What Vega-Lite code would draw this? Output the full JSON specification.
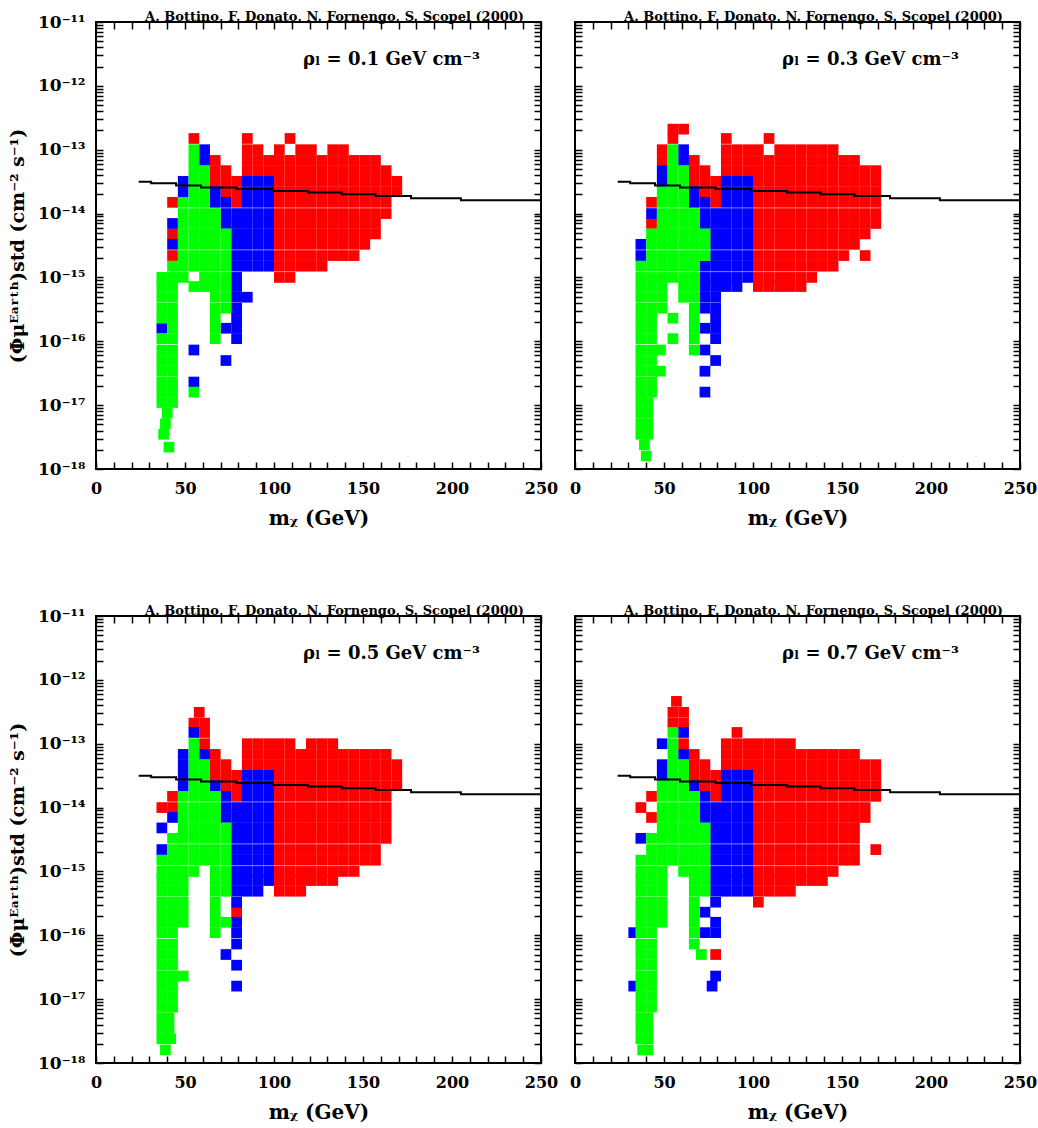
{
  "$schema": "https://vega.github.io/schema/vega-lite/v6.json",
  "background": "white",
  "padding": {"left": 7, "top": 10, "right": 0, "bottom": 0},
  "bounds": "flush",
  "columns": 2,
  "spacing": {"row": 147, "column": 34},
  "config": {
    "font": "DejaVu Serif",
    "view": {"stroke": "black", "strokeWidth": 2},
    "axis": {
      "grid": false, "domain": false, "tickColor": "black", "tickWidth": 1.5, "tickSize": -7,
      "labelColor": "black", "labelFont": "DejaVu Serif", "labelFontWeight": "bold",
      "titleColor": "black", "titleFont": "DejaVu Serif", "titleFontWeight": "bold",
      "labelOverlap": false, "labelBound": false, "labelFlush": false
    },
    "title": {"font": "DejaVu Serif", "fontWeight": "bold", "fontSize": 13, "color": "black", "anchor": "middle", "frame": "group", "dx": 16, "offset": 4}
  },
  "datasets": {
    "limit": [
      {"x":24,"y":3.16e-14},{"x":31,"y":2.99e-14},{"x":45,"y":2.75e-14},{"x":59,"y":2.57e-14},
      {"x":79,"y":2.43e-14},{"x":99,"y":2.26e-14},{"x":119,"y":2.14e-14},{"x":138,"y":2e-14},
      {"x":157,"y":1.88e-14},{"x":177,"y":1.74e-14},{"x":205,"y":1.62e-14},{"x":250,"y":1.58e-14}
    ],
    "p1": [
      {"x":55,"y":1.5e-13,"c":"r"},{"x":85,"y":1.5e-13,"c":"r"},{"x":109,"y":1.5e-13,"c":"r"},
      {"x":85,"y":1e-13,"c":"r"},{"x":91,"y":1e-13,"c":"r"},{"x":103,"y":1e-13,"c":"r"},{"x":115,"y":1e-13,"c":"r"},{"x":121,"y":1e-13,"c":"r"},{"x":133,"y":1e-13,"c":"r"},{"x":139,"y":1e-13,"c":"r"},
      {"x":67,"y":6.8e-14,"c":"r"},{"x":85,"y":6.8e-14,"c":"r"},{"x":91,"y":6.8e-14,"c":"r"},{"x":97,"y":6.8e-14,"c":"r"},{"x":103,"y":6.8e-14,"c":"r"},{"x":109,"y":6.8e-14,"c":"r"},{"x":115,"y":6.8e-14,"c":"r"},{"x":121,"y":6.8e-14,"c":"r"},{"x":127,"y":6.8e-14,"c":"r"},{"x":133,"y":6.8e-14,"c":"r"},{"x":139,"y":6.8e-14,"c":"r"},{"x":145,"y":6.8e-14,"c":"r"},{"x":151,"y":6.8e-14,"c":"r"},{"x":157,"y":6.8e-14,"c":"r"},
      {"x":67,"y":4.7e-14,"c":"r"},{"x":73,"y":4.7e-14,"c":"r"},{"x":85,"y":4.7e-14,"c":"r"},{"x":91,"y":4.7e-14,"c":"r"},{"x":97,"y":4.7e-14,"c":"r"},{"x":103,"y":4.7e-14,"c":"r"},{"x":109,"y":4.7e-14,"c":"r"},{"x":115,"y":4.7e-14,"c":"r"},{"x":121,"y":4.7e-14,"c":"r"},{"x":127,"y":4.7e-14,"c":"r"},{"x":133,"y":4.7e-14,"c":"r"},{"x":139,"y":4.7e-14,"c":"r"},{"x":145,"y":4.7e-14,"c":"r"},{"x":151,"y":4.7e-14,"c":"r"},{"x":157,"y":4.7e-14,"c":"r"},{"x":163,"y":4.7e-14,"c":"r"},
      {"x":67,"y":3.2e-14,"c":"r"},{"x":73,"y":3.2e-14,"c":"r"},{"x":79,"y":3.2e-14,"c":"r"},{"x":103,"y":3.2e-14,"c":"r"},{"x":109,"y":3.2e-14,"c":"r"},{"x":115,"y":3.2e-14,"c":"r"},{"x":121,"y":3.2e-14,"c":"r"},{"x":127,"y":3.2e-14,"c":"r"},{"x":133,"y":3.2e-14,"c":"r"},{"x":139,"y":3.2e-14,"c":"r"},{"x":145,"y":3.2e-14,"c":"r"},{"x":151,"y":3.2e-14,"c":"r"},{"x":157,"y":3.2e-14,"c":"r"},{"x":163,"y":3.2e-14,"c":"r"},{"x":169,"y":3.2e-14,"c":"r"},
      {"x":73,"y":2.2e-14,"c":"r"},{"x":79,"y":2.2e-14,"c":"r"},{"x":103,"y":2.2e-14,"c":"r"},{"x":109,"y":2.2e-14,"c":"r"},{"x":115,"y":2.2e-14,"c":"r"},{"x":121,"y":2.2e-14,"c":"r"},{"x":127,"y":2.2e-14,"c":"r"},{"x":133,"y":2.2e-14,"c":"r"},{"x":139,"y":2.2e-14,"c":"r"},{"x":145,"y":2.2e-14,"c":"r"},{"x":151,"y":2.2e-14,"c":"r"},{"x":157,"y":2.2e-14,"c":"r"},{"x":163,"y":2.2e-14,"c":"r"},{"x":169,"y":2.2e-14,"c":"r"},
      {"x":43,"y":1.5e-14,"c":"r"},{"x":79,"y":1.5e-14,"c":"r"},{"x":103,"y":1.5e-14,"c":"r"},{"x":109,"y":1.5e-14,"c":"r"},{"x":115,"y":1.5e-14,"c":"r"},{"x":121,"y":1.5e-14,"c":"r"},{"x":127,"y":1.5e-14,"c":"r"},{"x":133,"y":1.5e-14,"c":"r"},{"x":139,"y":1.5e-14,"c":"r"},{"x":145,"y":1.5e-14,"c":"r"},{"x":151,"y":1.5e-14,"c":"r"},{"x":157,"y":1.5e-14,"c":"r"},{"x":163,"y":1.5e-14,"c":"r"},
      {"x":103,"y":1e-14,"c":"r"},{"x":109,"y":1e-14,"c":"r"},{"x":115,"y":1e-14,"c":"r"},{"x":121,"y":1e-14,"c":"r"},{"x":127,"y":1e-14,"c":"r"},{"x":133,"y":1e-14,"c":"r"},{"x":139,"y":1e-14,"c":"r"},{"x":145,"y":1e-14,"c":"r"},{"x":151,"y":1e-14,"c":"r"},{"x":157,"y":1e-14,"c":"r"},{"x":163,"y":1e-14,"c":"r"},
      {"x":103,"y":7e-15,"c":"r"},{"x":109,"y":7e-15,"c":"r"},{"x":115,"y":7e-15,"c":"r"},{"x":121,"y":7e-15,"c":"r"},{"x":127,"y":7e-15,"c":"r"},{"x":133,"y":7e-15,"c":"r"},{"x":139,"y":7e-15,"c":"r"},{"x":145,"y":7e-15,"c":"r"},{"x":151,"y":7e-15,"c":"r"},{"x":157,"y":7e-15,"c":"r"},
      {"x":43,"y":4.8e-15,"c":"r"},{"x":103,"y":4.8e-15,"c":"r"},{"x":109,"y":4.8e-15,"c":"r"},{"x":115,"y":4.8e-15,"c":"r"},{"x":121,"y":4.8e-15,"c":"r"},{"x":127,"y":4.8e-15,"c":"r"},{"x":133,"y":4.8e-15,"c":"r"},{"x":139,"y":4.8e-15,"c":"r"},{"x":145,"y":4.8e-15,"c":"r"},{"x":151,"y":4.8e-15,"c":"r"},{"x":157,"y":4.8e-15,"c":"r"},
      {"x":103,"y":3.3e-15,"c":"r"},{"x":109,"y":3.3e-15,"c":"r"},{"x":115,"y":3.3e-15,"c":"r"},{"x":121,"y":3.3e-15,"c":"r"},{"x":127,"y":3.3e-15,"c":"r"},{"x":133,"y":3.3e-15,"c":"r"},{"x":139,"y":3.3e-15,"c":"r"},{"x":145,"y":3.3e-15,"c":"r"},{"x":151,"y":3.3e-15,"c":"r"},
      {"x":43,"y":2.2e-15,"c":"r"},{"x":103,"y":2.2e-15,"c":"r"},{"x":109,"y":2.2e-15,"c":"r"},{"x":115,"y":2.2e-15,"c":"r"},{"x":121,"y":2.2e-15,"c":"r"},{"x":127,"y":2.2e-15,"c":"r"},{"x":133,"y":2.2e-15,"c":"r"},{"x":139,"y":2.2e-15,"c":"r"},{"x":145,"y":2.2e-15,"c":"r"},
      {"x":103,"y":1.5e-15,"c":"r"},{"x":109,"y":1.5e-15,"c":"r"},{"x":115,"y":1.5e-15,"c":"r"},{"x":121,"y":1.5e-15,"c":"r"},{"x":127,"y":1.5e-15,"c":"r"},
      {"x":103,"y":1e-15,"c":"r"},{"x":109,"y":1e-15,"c":"r"},
      {"x":61,"y":1e-13,"c":"b"},{"x":61,"y":6.8e-14,"c":"b"},
      {"x":49,"y":3.2e-14,"c":"b"},{"x":85,"y":3.2e-14,"c":"b"},{"x":91,"y":3.2e-14,"c":"b"},{"x":97,"y":3.2e-14,"c":"b"},
      {"x":49,"y":2.2e-14,"c":"b"},{"x":67,"y":2.2e-14,"c":"b"},{"x":85,"y":2.2e-14,"c":"b"},{"x":91,"y":2.2e-14,"c":"b"},{"x":97,"y":2.2e-14,"c":"b"},
      {"x":67,"y":1.5e-14,"c":"b"},{"x":73,"y":1.5e-14,"c":"b"},{"x":85,"y":1.5e-14,"c":"b"},{"x":91,"y":1.5e-14,"c":"b"},{"x":97,"y":1.5e-14,"c":"b"},
      {"x":73,"y":1e-14,"c":"b"},{"x":79,"y":1e-14,"c":"b"},{"x":85,"y":1e-14,"c":"b"},{"x":91,"y":1e-14,"c":"b"},{"x":97,"y":1e-14,"c":"b"},
      {"x":43,"y":7e-15,"c":"b"},{"x":73,"y":7e-15,"c":"b"},{"x":79,"y":7e-15,"c":"b"},{"x":85,"y":7e-15,"c":"b"},{"x":91,"y":7e-15,"c":"b"},{"x":97,"y":7e-15,"c":"b"},
      {"x":79,"y":4.8e-15,"c":"b"},{"x":85,"y":4.8e-15,"c":"b"},{"x":91,"y":4.8e-15,"c":"b"},{"x":97,"y":4.8e-15,"c":"b"},
      {"x":43,"y":3.3e-15,"c":"b"},{"x":79,"y":3.3e-15,"c":"b"},{"x":85,"y":3.3e-15,"c":"b"},{"x":91,"y":3.3e-15,"c":"b"},{"x":97,"y":3.3e-15,"c":"b"},
      {"x":79,"y":2.2e-15,"c":"b"},{"x":85,"y":2.2e-15,"c":"b"},{"x":91,"y":2.2e-15,"c":"b"},{"x":97,"y":2.2e-15,"c":"b"},
      {"x":79,"y":1.5e-15,"c":"b"},{"x":85,"y":1.5e-15,"c":"b"},{"x":91,"y":1.5e-15,"c":"b"},{"x":97,"y":1.5e-15,"c":"b"},
      {"x":79,"y":1e-15,"c":"b"},{"x":79,"y":7.2e-16,"c":"b"},{"x":79,"y":4.9e-16,"c":"b"},{"x":85,"y":4.9e-16,"c":"b"},{"x":79,"y":3.3e-16,"c":"b"},{"x":79,"y":2.3e-16,"c":"b"},
      {"x":37,"y":1.6e-16,"c":"b"},{"x":73,"y":1.6e-16,"c":"b"},{"x":79,"y":1.6e-16,"c":"b"},{"x":79,"y":1.1e-16,"c":"b"},{"x":55,"y":7.3e-17,"c":"b"},{"x":73,"y":5e-17,"c":"b"},{"x":55,"y":2.3e-17,"c":"b"},
      {"x":55,"y":1e-13,"c":"g"},{"x":55,"y":6.8e-14,"c":"g"},
      {"x":55,"y":4.7e-14,"c":"g"},{"x":61,"y":4.7e-14,"c":"g"},
      {"x":55,"y":3.2e-14,"c":"g"},{"x":61,"y":3.2e-14,"c":"g"},
      {"x":55,"y":2.2e-14,"c":"g"},{"x":61,"y":2.2e-14,"c":"g"},
      {"x":49,"y":1.5e-14,"c":"g"},{"x":55,"y":1.5e-14,"c":"g"},{"x":61,"y":1.5e-14,"c":"g"},
      {"x":49,"y":1e-14,"c":"g"},{"x":55,"y":1e-14,"c":"g"},{"x":61,"y":1e-14,"c":"g"},{"x":67,"y":1e-14,"c":"g"},
      {"x":49,"y":7e-15,"c":"g"},{"x":55,"y":7e-15,"c":"g"},{"x":61,"y":7e-15,"c":"g"},{"x":67,"y":7e-15,"c":"g"},
      {"x":49,"y":4.8e-15,"c":"g"},{"x":55,"y":4.8e-15,"c":"g"},{"x":61,"y":4.8e-15,"c":"g"},{"x":67,"y":4.8e-15,"c":"g"},{"x":73,"y":4.8e-15,"c":"g"},
      {"x":49,"y":3.3e-15,"c":"g"},{"x":55,"y":3.3e-15,"c":"g"},{"x":61,"y":3.3e-15,"c":"g"},{"x":67,"y":3.3e-15,"c":"g"},{"x":73,"y":3.3e-15,"c":"g"},
      {"x":49,"y":2.2e-15,"c":"g"},{"x":55,"y":2.2e-15,"c":"g"},{"x":61,"y":2.2e-15,"c":"g"},{"x":67,"y":2.2e-15,"c":"g"},{"x":73,"y":2.2e-15,"c":"g"},
      {"x":43,"y":1.5e-15,"c":"g"},{"x":49,"y":1.5e-15,"c":"g"},{"x":55,"y":1.5e-15,"c":"g"},{"x":61,"y":1.5e-15,"c":"g"},{"x":67,"y":1.5e-15,"c":"g"},{"x":73,"y":1.5e-15,"c":"g"},
      {"x":37,"y":1e-15,"c":"g"},{"x":43,"y":1e-15,"c":"g"},{"x":49,"y":1e-15,"c":"g"},{"x":61,"y":1e-15,"c":"g"},{"x":67,"y":1e-15,"c":"g"},{"x":73,"y":1e-15,"c":"g"},
      {"x":37,"y":7.2e-16,"c":"g"},{"x":43,"y":7.2e-16,"c":"g"},{"x":55,"y":7.2e-16,"c":"g"},{"x":61,"y":7.2e-16,"c":"g"},{"x":67,"y":7.2e-16,"c":"g"},{"x":73,"y":7.2e-16,"c":"g"},
      {"x":37,"y":4.9e-16,"c":"g"},{"x":43,"y":4.9e-16,"c":"g"},{"x":67,"y":4.9e-16,"c":"g"},{"x":73,"y":4.9e-16,"c":"g"},
      {"x":37,"y":3.3e-16,"c":"g"},{"x":43,"y":3.3e-16,"c":"g"},{"x":67,"y":3.3e-16,"c":"g"},{"x":73,"y":3.3e-16,"c":"g"},
      {"x":37,"y":2.3e-16,"c":"g"},{"x":43,"y":2.3e-16,"c":"g"},{"x":67,"y":2.3e-16,"c":"g"},
      {"x":43,"y":1.6e-16,"c":"g"},{"x":67,"y":1.6e-16,"c":"g"},
      {"x":37,"y":1.1e-16,"c":"g"},{"x":43,"y":1.1e-16,"c":"g"},{"x":67,"y":1.1e-16,"c":"g"},
      {"x":37,"y":7.3e-17,"c":"g"},{"x":43,"y":7.3e-17,"c":"g"},
      {"x":37,"y":5e-17,"c":"g"},{"x":43,"y":5e-17,"c":"g"},
      {"x":37,"y":3.4e-17,"c":"g"},{"x":43,"y":3.4e-17,"c":"g"},
      {"x":37,"y":2.3e-17,"c":"g"},{"x":43,"y":2.3e-17,"c":"g"},
      {"x":37,"y":1.6e-17,"c":"g"},{"x":43,"y":1.6e-17,"c":"g"},{"x":55,"y":1.6e-17,"c":"g"},
      {"x":37,"y":1.1e-17,"c":"g"},{"x":43,"y":1.1e-17,"c":"g"},
      {"x":40,"y":7.5e-18,"c":"g"},{"x":39,"y":5.1e-18,"c":"g"},{"x":38,"y":3.5e-18,"c":"g"},{"x":41,"y":2.2e-18,"c":"g"}
    ],
    "p2": [
      {"x":55,"y":2.1e-13,"c":"r"},{"x":61,"y":2.1e-13,"c":"r"},
      {"x":55,"y":1.5e-13,"c":"r"},{"x":85,"y":1.5e-13,"c":"r"},{"x":109,"y":1.5e-13,"c":"r"},
      {"x":49,"y":1e-13,"c":"r"},{"x":85,"y":1e-13,"c":"r"},{"x":91,"y":1e-13,"c":"r"},{"x":97,"y":1e-13,"c":"r"},{"x":103,"y":1e-13,"c":"r"},{"x":115,"y":1e-13,"c":"r"},{"x":121,"y":1e-13,"c":"r"},{"x":127,"y":1e-13,"c":"r"},{"x":133,"y":1e-13,"c":"r"},{"x":139,"y":1e-13,"c":"r"},{"x":145,"y":1e-13,"c":"r"},
      {"x":49,"y":6.8e-14,"c":"r"},{"x":67,"y":6.8e-14,"c":"r"},{"x":85,"y":6.8e-14,"c":"r"},{"x":91,"y":6.8e-14,"c":"r"},{"x":97,"y":6.8e-14,"c":"r"},{"x":103,"y":6.8e-14,"c":"r"},{"x":109,"y":6.8e-14,"c":"r"},{"x":115,"y":6.8e-14,"c":"r"},{"x":121,"y":6.8e-14,"c":"r"},{"x":127,"y":6.8e-14,"c":"r"},{"x":133,"y":6.8e-14,"c":"r"},{"x":139,"y":6.8e-14,"c":"r"},{"x":145,"y":6.8e-14,"c":"r"},{"x":151,"y":6.8e-14,"c":"r"},{"x":157,"y":6.8e-14,"c":"r"},
      {"x":67,"y":4.7e-14,"c":"r"},{"x":73,"y":4.7e-14,"c":"r"},{"x":85,"y":4.7e-14,"c":"r"},{"x":91,"y":4.7e-14,"c":"r"},{"x":97,"y":4.7e-14,"c":"r"},{"x":103,"y":4.7e-14,"c":"r"},{"x":109,"y":4.7e-14,"c":"r"},{"x":115,"y":4.7e-14,"c":"r"},{"x":121,"y":4.7e-14,"c":"r"},{"x":127,"y":4.7e-14,"c":"r"},{"x":133,"y":4.7e-14,"c":"r"},{"x":139,"y":4.7e-14,"c":"r"},{"x":145,"y":4.7e-14,"c":"r"},{"x":151,"y":4.7e-14,"c":"r"},{"x":157,"y":4.7e-14,"c":"r"},{"x":163,"y":4.7e-14,"c":"r"},{"x":169,"y":4.7e-14,"c":"r"},
      {"x":67,"y":3.2e-14,"c":"r"},{"x":73,"y":3.2e-14,"c":"r"},{"x":79,"y":3.2e-14,"c":"r"},{"x":103,"y":3.2e-14,"c":"r"},{"x":109,"y":3.2e-14,"c":"r"},{"x":115,"y":3.2e-14,"c":"r"},{"x":121,"y":3.2e-14,"c":"r"},{"x":127,"y":3.2e-14,"c":"r"},{"x":133,"y":3.2e-14,"c":"r"},{"x":139,"y":3.2e-14,"c":"r"},{"x":145,"y":3.2e-14,"c":"r"},{"x":151,"y":3.2e-14,"c":"r"},{"x":157,"y":3.2e-14,"c":"r"},{"x":163,"y":3.2e-14,"c":"r"},{"x":169,"y":3.2e-14,"c":"r"},
      {"x":73,"y":2.2e-14,"c":"r"},{"x":79,"y":2.2e-14,"c":"r"},{"x":103,"y":2.2e-14,"c":"r"},{"x":109,"y":2.2e-14,"c":"r"},{"x":115,"y":2.2e-14,"c":"r"},{"x":121,"y":2.2e-14,"c":"r"},{"x":127,"y":2.2e-14,"c":"r"},{"x":133,"y":2.2e-14,"c":"r"},{"x":139,"y":2.2e-14,"c":"r"},{"x":145,"y":2.2e-14,"c":"r"},{"x":151,"y":2.2e-14,"c":"r"},{"x":157,"y":2.2e-14,"c":"r"},{"x":163,"y":2.2e-14,"c":"r"},{"x":169,"y":2.2e-14,"c":"r"},
      {"x":43,"y":1.5e-14,"c":"r"},{"x":79,"y":1.5e-14,"c":"r"},{"x":103,"y":1.5e-14,"c":"r"},{"x":109,"y":1.5e-14,"c":"r"},{"x":115,"y":1.5e-14,"c":"r"},{"x":121,"y":1.5e-14,"c":"r"},{"x":127,"y":1.5e-14,"c":"r"},{"x":133,"y":1.5e-14,"c":"r"},{"x":139,"y":1.5e-14,"c":"r"},{"x":145,"y":1.5e-14,"c":"r"},{"x":151,"y":1.5e-14,"c":"r"},{"x":157,"y":1.5e-14,"c":"r"},{"x":163,"y":1.5e-14,"c":"r"},{"x":169,"y":1.5e-14,"c":"r"},
      {"x":103,"y":1e-14,"c":"r"},{"x":109,"y":1e-14,"c":"r"},{"x":115,"y":1e-14,"c":"r"},{"x":121,"y":1e-14,"c":"r"},{"x":127,"y":1e-14,"c":"r"},{"x":133,"y":1e-14,"c":"r"},{"x":139,"y":1e-14,"c":"r"},{"x":145,"y":1e-14,"c":"r"},{"x":151,"y":1e-14,"c":"r"},{"x":157,"y":1e-14,"c":"r"},{"x":163,"y":1e-14,"c":"r"},{"x":169,"y":1e-14,"c":"r"},
      {"x":43,"y":7e-15,"c":"r"},{"x":103,"y":7e-15,"c":"r"},{"x":109,"y":7e-15,"c":"r"},{"x":115,"y":7e-15,"c":"r"},{"x":121,"y":7e-15,"c":"r"},{"x":127,"y":7e-15,"c":"r"},{"x":133,"y":7e-15,"c":"r"},{"x":139,"y":7e-15,"c":"r"},{"x":145,"y":7e-15,"c":"r"},{"x":151,"y":7e-15,"c":"r"},{"x":157,"y":7e-15,"c":"r"},{"x":163,"y":7e-15,"c":"r"},{"x":169,"y":7e-15,"c":"r"},
      {"x":103,"y":4.8e-15,"c":"r"},{"x":109,"y":4.8e-15,"c":"r"},{"x":115,"y":4.8e-15,"c":"r"},{"x":121,"y":4.8e-15,"c":"r"},{"x":127,"y":4.8e-15,"c":"r"},{"x":133,"y":4.8e-15,"c":"r"},{"x":139,"y":4.8e-15,"c":"r"},{"x":145,"y":4.8e-15,"c":"r"},{"x":151,"y":4.8e-15,"c":"r"},{"x":157,"y":4.8e-15,"c":"r"},{"x":163,"y":4.8e-15,"c":"r"},
      {"x":103,"y":3.3e-15,"c":"r"},{"x":109,"y":3.3e-15,"c":"r"},{"x":115,"y":3.3e-15,"c":"r"},{"x":121,"y":3.3e-15,"c":"r"},{"x":127,"y":3.3e-15,"c":"r"},{"x":133,"y":3.3e-15,"c":"r"},{"x":139,"y":3.3e-15,"c":"r"},{"x":145,"y":3.3e-15,"c":"r"},{"x":151,"y":3.3e-15,"c":"r"},{"x":157,"y":3.3e-15,"c":"r"},
      {"x":103,"y":2.2e-15,"c":"r"},{"x":109,"y":2.2e-15,"c":"r"},{"x":115,"y":2.2e-15,"c":"r"},{"x":121,"y":2.2e-15,"c":"r"},{"x":127,"y":2.2e-15,"c":"r"},{"x":133,"y":2.2e-15,"c":"r"},{"x":139,"y":2.2e-15,"c":"r"},{"x":145,"y":2.2e-15,"c":"r"},{"x":151,"y":2.2e-15,"c":"r"},{"x":163,"y":2.2e-15,"c":"r"},
      {"x":103,"y":1.5e-15,"c":"r"},{"x":109,"y":1.5e-15,"c":"r"},{"x":115,"y":1.5e-15,"c":"r"},{"x":121,"y":1.5e-15,"c":"r"},{"x":127,"y":1.5e-15,"c":"r"},{"x":133,"y":1.5e-15,"c":"r"},{"x":139,"y":1.5e-15,"c":"r"},{"x":145,"y":1.5e-15,"c":"r"},
      {"x":103,"y":1e-15,"c":"r"},{"x":109,"y":1e-15,"c":"r"},{"x":115,"y":1e-15,"c":"r"},{"x":121,"y":1e-15,"c":"r"},{"x":127,"y":1e-15,"c":"r"},{"x":133,"y":1e-15,"c":"r"},
      {"x":103,"y":7.2e-16,"c":"r"},{"x":109,"y":7.2e-16,"c":"r"},{"x":115,"y":7.2e-16,"c":"r"},{"x":121,"y":7.2e-16,"c":"r"},{"x":127,"y":7.2e-16,"c":"r"},
      {"x":61,"y":1e-13,"c":"b"},{"x":61,"y":6.8e-14,"c":"b"},{"x":49,"y":4.7e-14,"c":"b"},
      {"x":49,"y":3.2e-14,"c":"b"},{"x":85,"y":3.2e-14,"c":"b"},{"x":91,"y":3.2e-14,"c":"b"},{"x":97,"y":3.2e-14,"c":"b"},
      {"x":67,"y":2.2e-14,"c":"b"},{"x":85,"y":2.2e-14,"c":"b"},{"x":91,"y":2.2e-14,"c":"b"},{"x":97,"y":2.2e-14,"c":"b"},
      {"x":67,"y":1.5e-14,"c":"b"},{"x":73,"y":1.5e-14,"c":"b"},{"x":85,"y":1.5e-14,"c":"b"},{"x":91,"y":1.5e-14,"c":"b"},{"x":97,"y":1.5e-14,"c":"b"},
      {"x":43,"y":1e-14,"c":"b"},{"x":73,"y":1e-14,"c":"b"},{"x":79,"y":1e-14,"c":"b"},{"x":85,"y":1e-14,"c":"b"},{"x":91,"y":1e-14,"c":"b"},{"x":97,"y":1e-14,"c":"b"},
      {"x":73,"y":7e-15,"c":"b"},{"x":79,"y":7e-15,"c":"b"},{"x":85,"y":7e-15,"c":"b"},{"x":91,"y":7e-15,"c":"b"},{"x":97,"y":7e-15,"c":"b"},
      {"x":79,"y":4.8e-15,"c":"b"},{"x":85,"y":4.8e-15,"c":"b"},{"x":91,"y":4.8e-15,"c":"b"},{"x":97,"y":4.8e-15,"c":"b"},
      {"x":37,"y":3.3e-15,"c":"b"},{"x":79,"y":3.3e-15,"c":"b"},{"x":85,"y":3.3e-15,"c":"b"},{"x":91,"y":3.3e-15,"c":"b"},{"x":97,"y":3.3e-15,"c":"b"},
      {"x":37,"y":2.2e-15,"c":"b"},{"x":79,"y":2.2e-15,"c":"b"},{"x":85,"y":2.2e-15,"c":"b"},{"x":91,"y":2.2e-15,"c":"b"},{"x":97,"y":2.2e-15,"c":"b"},
      {"x":73,"y":1.5e-15,"c":"b"},{"x":79,"y":1.5e-15,"c":"b"},{"x":85,"y":1.5e-15,"c":"b"},{"x":91,"y":1.5e-15,"c":"b"},{"x":97,"y":1.5e-15,"c":"b"},
      {"x":73,"y":1e-15,"c":"b"},{"x":79,"y":1e-15,"c":"b"},{"x":85,"y":1e-15,"c":"b"},{"x":91,"y":1e-15,"c":"b"},{"x":97,"y":1e-15,"c":"b"},
      {"x":73,"y":7.2e-16,"c":"b"},{"x":79,"y":7.2e-16,"c":"b"},{"x":85,"y":7.2e-16,"c":"b"},{"x":91,"y":7.2e-16,"c":"b"},
      {"x":73,"y":4.9e-16,"c":"b"},{"x":79,"y":4.9e-16,"c":"b"},{"x":73,"y":3.3e-16,"c":"b"},{"x":79,"y":3.3e-16,"c":"b"},{"x":79,"y":2.3e-16,"c":"b"},
      {"x":73,"y":1.6e-16,"c":"b"},{"x":79,"y":1.6e-16,"c":"b"},{"x":79,"y":1.1e-16,"c":"b"},{"x":73,"y":7.3e-17,"c":"b"},{"x":79,"y":5e-17,"c":"b"},{"x":73,"y":3.4e-17,"c":"b"},{"x":73,"y":1.6e-17,"c":"b"},
      {"x":55,"y":1e-13,"c":"g"},{"x":55,"y":6.8e-14,"c":"g"},
      {"x":55,"y":4.7e-14,"c":"g"},{"x":61,"y":4.7e-14,"c":"g"},
      {"x":55,"y":3.2e-14,"c":"g"},{"x":61,"y":3.2e-14,"c":"g"},
      {"x":49,"y":2.2e-14,"c":"g"},{"x":55,"y":2.2e-14,"c":"g"},{"x":61,"y":2.2e-14,"c":"g"},
      {"x":49,"y":1.5e-14,"c":"g"},{"x":55,"y":1.5e-14,"c":"g"},{"x":61,"y":1.5e-14,"c":"g"},
      {"x":49,"y":1e-14,"c":"g"},{"x":55,"y":1e-14,"c":"g"},{"x":61,"y":1e-14,"c":"g"},{"x":67,"y":1e-14,"c":"g"},
      {"x":49,"y":7e-15,"c":"g"},{"x":55,"y":7e-15,"c":"g"},{"x":61,"y":7e-15,"c":"g"},{"x":67,"y":7e-15,"c":"g"},
      {"x":43,"y":4.8e-15,"c":"g"},{"x":49,"y":4.8e-15,"c":"g"},{"x":55,"y":4.8e-15,"c":"g"},{"x":61,"y":4.8e-15,"c":"g"},{"x":67,"y":4.8e-15,"c":"g"},{"x":73,"y":4.8e-15,"c":"g"},
      {"x":43,"y":3.3e-15,"c":"g"},{"x":49,"y":3.3e-15,"c":"g"},{"x":55,"y":3.3e-15,"c":"g"},{"x":61,"y":3.3e-15,"c":"g"},{"x":67,"y":3.3e-15,"c":"g"},{"x":73,"y":3.3e-15,"c":"g"},
      {"x":43,"y":2.2e-15,"c":"g"},{"x":49,"y":2.2e-15,"c":"g"},{"x":55,"y":2.2e-15,"c":"g"},{"x":61,"y":2.2e-15,"c":"g"},{"x":67,"y":2.2e-15,"c":"g"},{"x":73,"y":2.2e-15,"c":"g"},
      {"x":37,"y":1.5e-15,"c":"g"},{"x":43,"y":1.5e-15,"c":"g"},{"x":49,"y":1.5e-15,"c":"g"},{"x":55,"y":1.5e-15,"c":"g"},{"x":61,"y":1.5e-15,"c":"g"},{"x":67,"y":1.5e-15,"c":"g"},
      {"x":37,"y":1e-15,"c":"g"},{"x":43,"y":1e-15,"c":"g"},{"x":49,"y":1e-15,"c":"g"},{"x":55,"y":1e-15,"c":"g"},{"x":61,"y":1e-15,"c":"g"},{"x":67,"y":1e-15,"c":"g"},
      {"x":37,"y":7.2e-16,"c":"g"},{"x":43,"y":7.2e-16,"c":"g"},{"x":49,"y":7.2e-16,"c":"g"},{"x":61,"y":7.2e-16,"c":"g"},{"x":67,"y":7.2e-16,"c":"g"},
      {"x":37,"y":4.9e-16,"c":"g"},{"x":43,"y":4.9e-16,"c":"g"},{"x":49,"y":4.9e-16,"c":"g"},{"x":61,"y":4.9e-16,"c":"g"},{"x":67,"y":4.9e-16,"c":"g"},
      {"x":37,"y":3.3e-16,"c":"g"},{"x":43,"y":3.3e-16,"c":"g"},{"x":49,"y":3.3e-16,"c":"g"},{"x":67,"y":3.3e-16,"c":"g"},
      {"x":37,"y":2.3e-16,"c":"g"},{"x":43,"y":2.3e-16,"c":"g"},{"x":55,"y":2.3e-16,"c":"g"},{"x":67,"y":2.3e-16,"c":"g"},
      {"x":37,"y":1.6e-16,"c":"g"},{"x":43,"y":1.6e-16,"c":"g"},{"x":67,"y":1.6e-16,"c":"g"},
      {"x":37,"y":1.1e-16,"c":"g"},{"x":43,"y":1.1e-16,"c":"g"},{"x":55,"y":1.1e-16,"c":"g"},{"x":67,"y":1.1e-16,"c":"g"},
      {"x":37,"y":7.3e-17,"c":"g"},{"x":43,"y":7.3e-17,"c":"g"},{"x":48,"y":7.3e-17,"c":"g"},{"x":67,"y":7.3e-17,"c":"g"},
      {"x":37,"y":5e-17,"c":"g"},{"x":43,"y":5e-17,"c":"g"},
      {"x":37,"y":3.4e-17,"c":"g"},{"x":43,"y":3.4e-17,"c":"g"},{"x":48,"y":3.4e-17,"c":"g"},
      {"x":37,"y":2.3e-17,"c":"g"},{"x":43,"y":2.3e-17,"c":"g"},
      {"x":37,"y":1.6e-17,"c":"g"},{"x":43,"y":1.6e-17,"c":"g"},
      {"x":37,"y":1.1e-17,"c":"g"},{"x":41,"y":1.1e-17,"c":"g"},
      {"x":37,"y":7.5e-18,"c":"g"},{"x":41,"y":7.5e-18,"c":"g"},
      {"x":37,"y":5.1e-18,"c":"g"},{"x":41,"y":5.1e-18,"c":"g"},
      {"x":37,"y":3.5e-18,"c":"g"},{"x":41,"y":3.5e-18,"c":"g"},
      {"x":39,"y":2.4e-18,"c":"g"},{"x":40,"y":1.6e-18,"c":"g"}
    ],
    "p3": [
      {"x":58,"y":3.1e-13,"c":"r"},{"x":55,"y":2.1e-13,"c":"r"},{"x":61,"y":2.1e-13,"c":"r"},{"x":61,"y":1.5e-13,"c":"r"},
      {"x":61,"y":1e-13,"c":"r"},{"x":85,"y":1e-13,"c":"r"},{"x":91,"y":1e-13,"c":"r"},{"x":97,"y":1e-13,"c":"r"},{"x":103,"y":1e-13,"c":"r"},{"x":109,"y":1e-13,"c":"r"},{"x":121,"y":1e-13,"c":"r"},{"x":127,"y":1e-13,"c":"r"},{"x":133,"y":1e-13,"c":"r"},
      {"x":67,"y":6.8e-14,"c":"r"},{"x":85,"y":6.8e-14,"c":"r"},{"x":91,"y":6.8e-14,"c":"r"},{"x":97,"y":6.8e-14,"c":"r"},{"x":103,"y":6.8e-14,"c":"r"},{"x":109,"y":6.8e-14,"c":"r"},{"x":115,"y":6.8e-14,"c":"r"},{"x":121,"y":6.8e-14,"c":"r"},{"x":127,"y":6.8e-14,"c":"r"},{"x":133,"y":6.8e-14,"c":"r"},{"x":139,"y":6.8e-14,"c":"r"},{"x":145,"y":6.8e-14,"c":"r"},{"x":151,"y":6.8e-14,"c":"r"},{"x":157,"y":6.8e-14,"c":"r"},{"x":163,"y":6.8e-14,"c":"r"},
      {"x":67,"y":4.7e-14,"c":"r"},{"x":73,"y":4.7e-14,"c":"r"},{"x":85,"y":4.7e-14,"c":"r"},{"x":91,"y":4.7e-14,"c":"r"},{"x":97,"y":4.7e-14,"c":"r"},{"x":103,"y":4.7e-14,"c":"r"},{"x":109,"y":4.7e-14,"c":"r"},{"x":115,"y":4.7e-14,"c":"r"},{"x":121,"y":4.7e-14,"c":"r"},{"x":127,"y":4.7e-14,"c":"r"},{"x":133,"y":4.7e-14,"c":"r"},{"x":139,"y":4.7e-14,"c":"r"},{"x":145,"y":4.7e-14,"c":"r"},{"x":151,"y":4.7e-14,"c":"r"},{"x":157,"y":4.7e-14,"c":"r"},{"x":163,"y":4.7e-14,"c":"r"},{"x":169,"y":4.7e-14,"c":"r"},
      {"x":67,"y":3.2e-14,"c":"r"},{"x":73,"y":3.2e-14,"c":"r"},{"x":79,"y":3.2e-14,"c":"r"},{"x":103,"y":3.2e-14,"c":"r"},{"x":109,"y":3.2e-14,"c":"r"},{"x":115,"y":3.2e-14,"c":"r"},{"x":121,"y":3.2e-14,"c":"r"},{"x":127,"y":3.2e-14,"c":"r"},{"x":133,"y":3.2e-14,"c":"r"},{"x":139,"y":3.2e-14,"c":"r"},{"x":145,"y":3.2e-14,"c":"r"},{"x":151,"y":3.2e-14,"c":"r"},{"x":157,"y":3.2e-14,"c":"r"},{"x":163,"y":3.2e-14,"c":"r"},{"x":169,"y":3.2e-14,"c":"r"},
      {"x":73,"y":2.2e-14,"c":"r"},{"x":79,"y":2.2e-14,"c":"r"},{"x":103,"y":2.2e-14,"c":"r"},{"x":109,"y":2.2e-14,"c":"r"},{"x":115,"y":2.2e-14,"c":"r"},{"x":121,"y":2.2e-14,"c":"r"},{"x":127,"y":2.2e-14,"c":"r"},{"x":133,"y":2.2e-14,"c":"r"},{"x":139,"y":2.2e-14,"c":"r"},{"x":145,"y":2.2e-14,"c":"r"},{"x":151,"y":2.2e-14,"c":"r"},{"x":157,"y":2.2e-14,"c":"r"},{"x":163,"y":2.2e-14,"c":"r"},{"x":169,"y":2.2e-14,"c":"r"},
      {"x":43,"y":1.5e-14,"c":"r"},{"x":79,"y":1.5e-14,"c":"r"},{"x":103,"y":1.5e-14,"c":"r"},{"x":109,"y":1.5e-14,"c":"r"},{"x":115,"y":1.5e-14,"c":"r"},{"x":121,"y":1.5e-14,"c":"r"},{"x":127,"y":1.5e-14,"c":"r"},{"x":133,"y":1.5e-14,"c":"r"},{"x":139,"y":1.5e-14,"c":"r"},{"x":145,"y":1.5e-14,"c":"r"},{"x":151,"y":1.5e-14,"c":"r"},{"x":157,"y":1.5e-14,"c":"r"},{"x":163,"y":1.5e-14,"c":"r"},
      {"x":37,"y":1e-14,"c":"r"},{"x":43,"y":1e-14,"c":"r"},{"x":103,"y":1e-14,"c":"r"},{"x":109,"y":1e-14,"c":"r"},{"x":115,"y":1e-14,"c":"r"},{"x":121,"y":1e-14,"c":"r"},{"x":127,"y":1e-14,"c":"r"},{"x":133,"y":1e-14,"c":"r"},{"x":139,"y":1e-14,"c":"r"},{"x":145,"y":1e-14,"c":"r"},{"x":151,"y":1e-14,"c":"r"},{"x":157,"y":1e-14,"c":"r"},{"x":163,"y":1e-14,"c":"r"},
      {"x":103,"y":7e-15,"c":"r"},{"x":109,"y":7e-15,"c":"r"},{"x":115,"y":7e-15,"c":"r"},{"x":121,"y":7e-15,"c":"r"},{"x":127,"y":7e-15,"c":"r"},{"x":133,"y":7e-15,"c":"r"},{"x":139,"y":7e-15,"c":"r"},{"x":145,"y":7e-15,"c":"r"},{"x":151,"y":7e-15,"c":"r"},{"x":157,"y":7e-15,"c":"r"},{"x":163,"y":7e-15,"c":"r"},
      {"x":103,"y":4.8e-15,"c":"r"},{"x":109,"y":4.8e-15,"c":"r"},{"x":115,"y":4.8e-15,"c":"r"},{"x":121,"y":4.8e-15,"c":"r"},{"x":127,"y":4.8e-15,"c":"r"},{"x":133,"y":4.8e-15,"c":"r"},{"x":139,"y":4.8e-15,"c":"r"},{"x":145,"y":4.8e-15,"c":"r"},{"x":151,"y":4.8e-15,"c":"r"},{"x":157,"y":4.8e-15,"c":"r"},{"x":163,"y":4.8e-15,"c":"r"},
      {"x":103,"y":3.3e-15,"c":"r"},{"x":109,"y":3.3e-15,"c":"r"},{"x":115,"y":3.3e-15,"c":"r"},{"x":121,"y":3.3e-15,"c":"r"},{"x":127,"y":3.3e-15,"c":"r"},{"x":133,"y":3.3e-15,"c":"r"},{"x":139,"y":3.3e-15,"c":"r"},{"x":145,"y":3.3e-15,"c":"r"},{"x":151,"y":3.3e-15,"c":"r"},{"x":157,"y":3.3e-15,"c":"r"},{"x":163,"y":3.3e-15,"c":"r"},
      {"x":103,"y":2.2e-15,"c":"r"},{"x":109,"y":2.2e-15,"c":"r"},{"x":115,"y":2.2e-15,"c":"r"},{"x":121,"y":2.2e-15,"c":"r"},{"x":127,"y":2.2e-15,"c":"r"},{"x":133,"y":2.2e-15,"c":"r"},{"x":139,"y":2.2e-15,"c":"r"},{"x":145,"y":2.2e-15,"c":"r"},{"x":151,"y":2.2e-15,"c":"r"},{"x":157,"y":2.2e-15,"c":"r"},
      {"x":103,"y":1.5e-15,"c":"r"},{"x":109,"y":1.5e-15,"c":"r"},{"x":115,"y":1.5e-15,"c":"r"},{"x":121,"y":1.5e-15,"c":"r"},{"x":127,"y":1.5e-15,"c":"r"},{"x":133,"y":1.5e-15,"c":"r"},{"x":139,"y":1.5e-15,"c":"r"},{"x":145,"y":1.5e-15,"c":"r"},{"x":151,"y":1.5e-15,"c":"r"},{"x":157,"y":1.5e-15,"c":"r"},
      {"x":103,"y":1e-15,"c":"r"},{"x":109,"y":1e-15,"c":"r"},{"x":115,"y":1e-15,"c":"r"},{"x":121,"y":1e-15,"c":"r"},{"x":127,"y":1e-15,"c":"r"},{"x":133,"y":1e-15,"c":"r"},{"x":139,"y":1e-15,"c":"r"},{"x":145,"y":1e-15,"c":"r"},
      {"x":103,"y":7.2e-16,"c":"r"},{"x":109,"y":7.2e-16,"c":"r"},{"x":115,"y":7.2e-16,"c":"r"},{"x":121,"y":7.2e-16,"c":"r"},{"x":127,"y":7.2e-16,"c":"r"},{"x":133,"y":7.2e-16,"c":"r"},
      {"x":103,"y":4.9e-16,"c":"r"},{"x":109,"y":4.9e-16,"c":"r"},{"x":115,"y":4.9e-16,"c":"r"},{"x":79,"y":2.3e-16,"c":"r"},
      {"x":55,"y":1.5e-13,"c":"b"},{"x":49,"y":6.8e-14,"c":"b"},{"x":61,"y":6.8e-14,"c":"b"},{"x":49,"y":4.7e-14,"c":"b"},
      {"x":49,"y":3.2e-14,"c":"b"},{"x":85,"y":3.2e-14,"c":"b"},{"x":91,"y":3.2e-14,"c":"b"},{"x":97,"y":3.2e-14,"c":"b"},
      {"x":49,"y":2.2e-14,"c":"b"},{"x":67,"y":2.2e-14,"c":"b"},{"x":85,"y":2.2e-14,"c":"b"},{"x":91,"y":2.2e-14,"c":"b"},{"x":97,"y":2.2e-14,"c":"b"},
      {"x":73,"y":1.5e-14,"c":"b"},{"x":85,"y":1.5e-14,"c":"b"},{"x":91,"y":1.5e-14,"c":"b"},{"x":97,"y":1.5e-14,"c":"b"},
      {"x":73,"y":1e-14,"c":"b"},{"x":79,"y":1e-14,"c":"b"},{"x":85,"y":1e-14,"c":"b"},{"x":91,"y":1e-14,"c":"b"},{"x":97,"y":1e-14,"c":"b"},
      {"x":43,"y":7e-15,"c":"b"},{"x":73,"y":7e-15,"c":"b"},{"x":79,"y":7e-15,"c":"b"},{"x":85,"y":7e-15,"c":"b"},{"x":91,"y":7e-15,"c":"b"},{"x":97,"y":7e-15,"c":"b"},
      {"x":37,"y":4.8e-15,"c":"b"},{"x":79,"y":4.8e-15,"c":"b"},{"x":85,"y":4.8e-15,"c":"b"},{"x":91,"y":4.8e-15,"c":"b"},{"x":97,"y":4.8e-15,"c":"b"},
      {"x":79,"y":3.3e-15,"c":"b"},{"x":85,"y":3.3e-15,"c":"b"},{"x":91,"y":3.3e-15,"c":"b"},{"x":97,"y":3.3e-15,"c":"b"},
      {"x":37,"y":2.2e-15,"c":"b"},{"x":79,"y":2.2e-15,"c":"b"},{"x":85,"y":2.2e-15,"c":"b"},{"x":91,"y":2.2e-15,"c":"b"},{"x":97,"y":2.2e-15,"c":"b"},
      {"x":79,"y":1.5e-15,"c":"b"},{"x":85,"y":1.5e-15,"c":"b"},{"x":91,"y":1.5e-15,"c":"b"},{"x":97,"y":1.5e-15,"c":"b"},
      {"x":79,"y":1e-15,"c":"b"},{"x":85,"y":1e-15,"c":"b"},{"x":91,"y":1e-15,"c":"b"},{"x":97,"y":1e-15,"c":"b"},
      {"x":79,"y":7.2e-16,"c":"b"},{"x":85,"y":7.2e-16,"c":"b"},{"x":91,"y":7.2e-16,"c":"b"},{"x":97,"y":7.2e-16,"c":"b"},
      {"x":79,"y":4.9e-16,"c":"b"},{"x":85,"y":4.9e-16,"c":"b"},{"x":91,"y":4.9e-16,"c":"b"},
      {"x":79,"y":3.3e-16,"c":"b"},{"x":79,"y":1.6e-16,"c":"b"},{"x":79,"y":1.1e-16,"c":"b"},{"x":79,"y":7.3e-17,"c":"b"},{"x":73,"y":5e-17,"c":"b"},{"x":79,"y":3.4e-17,"c":"b"},{"x":79,"y":1.6e-17,"c":"b"},
      {"x":55,"y":1e-13,"c":"g"},{"x":55,"y":6.8e-14,"c":"g"},
      {"x":55,"y":4.7e-14,"c":"g"},{"x":61,"y":4.7e-14,"c":"g"},
      {"x":55,"y":3.2e-14,"c":"g"},{"x":61,"y":3.2e-14,"c":"g"},
      {"x":55,"y":2.2e-14,"c":"g"},{"x":61,"y":2.2e-14,"c":"g"},
      {"x":49,"y":1.5e-14,"c":"g"},{"x":55,"y":1.5e-14,"c":"g"},{"x":61,"y":1.5e-14,"c":"g"},{"x":67,"y":1.5e-14,"c":"g"},
      {"x":49,"y":1e-14,"c":"g"},{"x":55,"y":1e-14,"c":"g"},{"x":61,"y":1e-14,"c":"g"},{"x":67,"y":1e-14,"c":"g"},
      {"x":49,"y":7e-15,"c":"g"},{"x":55,"y":7e-15,"c":"g"},{"x":61,"y":7e-15,"c":"g"},{"x":67,"y":7e-15,"c":"g"},
      {"x":49,"y":4.8e-15,"c":"g"},{"x":55,"y":4.8e-15,"c":"g"},{"x":61,"y":4.8e-15,"c":"g"},{"x":67,"y":4.8e-15,"c":"g"},{"x":73,"y":4.8e-15,"c":"g"},
      {"x":43,"y":3.3e-15,"c":"g"},{"x":49,"y":3.3e-15,"c":"g"},{"x":55,"y":3.3e-15,"c":"g"},{"x":61,"y":3.3e-15,"c":"g"},{"x":67,"y":3.3e-15,"c":"g"},{"x":73,"y":3.3e-15,"c":"g"},
      {"x":43,"y":2.2e-15,"c":"g"},{"x":49,"y":2.2e-15,"c":"g"},{"x":55,"y":2.2e-15,"c":"g"},{"x":61,"y":2.2e-15,"c":"g"},{"x":67,"y":2.2e-15,"c":"g"},{"x":73,"y":2.2e-15,"c":"g"},
      {"x":37,"y":1.5e-15,"c":"g"},{"x":43,"y":1.5e-15,"c":"g"},{"x":49,"y":1.5e-15,"c":"g"},{"x":55,"y":1.5e-15,"c":"g"},{"x":61,"y":1.5e-15,"c":"g"},{"x":67,"y":1.5e-15,"c":"g"},{"x":73,"y":1.5e-15,"c":"g"},
      {"x":37,"y":1e-15,"c":"g"},{"x":43,"y":1e-15,"c":"g"},{"x":49,"y":1e-15,"c":"g"},{"x":55,"y":1e-15,"c":"g"},{"x":67,"y":1e-15,"c":"g"},{"x":73,"y":1e-15,"c":"g"},
      {"x":37,"y":7.2e-16,"c":"g"},{"x":43,"y":7.2e-16,"c":"g"},{"x":49,"y":7.2e-16,"c":"g"},{"x":67,"y":7.2e-16,"c":"g"},{"x":73,"y":7.2e-16,"c":"g"},
      {"x":37,"y":4.9e-16,"c":"g"},{"x":43,"y":4.9e-16,"c":"g"},{"x":49,"y":4.9e-16,"c":"g"},{"x":67,"y":4.9e-16,"c":"g"},{"x":73,"y":4.9e-16,"c":"g"},
      {"x":37,"y":3.3e-16,"c":"g"},{"x":43,"y":3.3e-16,"c":"g"},{"x":49,"y":3.3e-16,"c":"g"},{"x":67,"y":3.3e-16,"c":"g"},
      {"x":37,"y":2.3e-16,"c":"g"},{"x":43,"y":2.3e-16,"c":"g"},{"x":49,"y":2.3e-16,"c":"g"},{"x":67,"y":2.3e-16,"c":"g"},
      {"x":37,"y":1.6e-16,"c":"g"},{"x":43,"y":1.6e-16,"c":"g"},{"x":49,"y":1.6e-16,"c":"g"},{"x":67,"y":1.6e-16,"c":"g"},{"x":73,"y":1.6e-16,"c":"g"},
      {"x":37,"y":1.1e-16,"c":"g"},{"x":43,"y":1.1e-16,"c":"g"},{"x":67,"y":1.1e-16,"c":"g"},
      {"x":37,"y":7.3e-17,"c":"g"},{"x":43,"y":7.3e-17,"c":"g"},
      {"x":37,"y":5e-17,"c":"g"},{"x":43,"y":5e-17,"c":"g"},
      {"x":37,"y":3.4e-17,"c":"g"},{"x":43,"y":3.4e-17,"c":"g"},
      {"x":37,"y":2.3e-17,"c":"g"},{"x":43,"y":2.3e-17,"c":"g"},{"x":49,"y":2.3e-17,"c":"g"},
      {"x":37,"y":1.6e-17,"c":"g"},{"x":43,"y":1.6e-17,"c":"g"},
      {"x":37,"y":1.1e-17,"c":"g"},{"x":43,"y":1.1e-17,"c":"g"},
      {"x":37,"y":7.5e-18,"c":"g"},{"x":43,"y":7.5e-18,"c":"g"},
      {"x":37,"y":5.1e-18,"c":"g"},{"x":41,"y":5.1e-18,"c":"g"},
      {"x":37,"y":3.5e-18,"c":"g"},{"x":41,"y":3.5e-18,"c":"g"},
      {"x":37,"y":2.4e-18,"c":"g"},{"x":42,"y":2.4e-18,"c":"g"},{"x":39,"y":1.6e-18,"c":"g"}
    ],
    "p4": [
      {"x":57,"y":4.6e-13,"c":"r"},{"x":55,"y":3.1e-13,"c":"r"},{"x":61,"y":3.1e-13,"c":"r"},{"x":55,"y":2.1e-13,"c":"r"},{"x":61,"y":2.1e-13,"c":"r"},{"x":91,"y":1.5e-13,"c":"r"},
      {"x":61,"y":1e-13,"c":"r"},{"x":85,"y":1e-13,"c":"r"},{"x":91,"y":1e-13,"c":"r"},{"x":97,"y":1e-13,"c":"r"},{"x":103,"y":1e-13,"c":"r"},{"x":109,"y":1e-13,"c":"r"},{"x":115,"y":1e-13,"c":"r"},{"x":121,"y":1e-13,"c":"r"},
      {"x":67,"y":6.8e-14,"c":"r"},{"x":85,"y":6.8e-14,"c":"r"},{"x":91,"y":6.8e-14,"c":"r"},{"x":97,"y":6.8e-14,"c":"r"},{"x":103,"y":6.8e-14,"c":"r"},{"x":109,"y":6.8e-14,"c":"r"},{"x":115,"y":6.8e-14,"c":"r"},{"x":121,"y":6.8e-14,"c":"r"},{"x":127,"y":6.8e-14,"c":"r"},{"x":133,"y":6.8e-14,"c":"r"},{"x":139,"y":6.8e-14,"c":"r"},{"x":145,"y":6.8e-14,"c":"r"},{"x":151,"y":6.8e-14,"c":"r"},{"x":157,"y":6.8e-14,"c":"r"},
      {"x":67,"y":4.7e-14,"c":"r"},{"x":73,"y":4.7e-14,"c":"r"},{"x":85,"y":4.7e-14,"c":"r"},{"x":91,"y":4.7e-14,"c":"r"},{"x":97,"y":4.7e-14,"c":"r"},{"x":103,"y":4.7e-14,"c":"r"},{"x":109,"y":4.7e-14,"c":"r"},{"x":115,"y":4.7e-14,"c":"r"},{"x":121,"y":4.7e-14,"c":"r"},{"x":127,"y":4.7e-14,"c":"r"},{"x":133,"y":4.7e-14,"c":"r"},{"x":139,"y":4.7e-14,"c":"r"},{"x":145,"y":4.7e-14,"c":"r"},{"x":151,"y":4.7e-14,"c":"r"},{"x":157,"y":4.7e-14,"c":"r"},{"x":163,"y":4.7e-14,"c":"r"},{"x":169,"y":4.7e-14,"c":"r"},
      {"x":67,"y":3.2e-14,"c":"r"},{"x":73,"y":3.2e-14,"c":"r"},{"x":79,"y":3.2e-14,"c":"r"},{"x":103,"y":3.2e-14,"c":"r"},{"x":109,"y":3.2e-14,"c":"r"},{"x":115,"y":3.2e-14,"c":"r"},{"x":121,"y":3.2e-14,"c":"r"},{"x":127,"y":3.2e-14,"c":"r"},{"x":133,"y":3.2e-14,"c":"r"},{"x":139,"y":3.2e-14,"c":"r"},{"x":145,"y":3.2e-14,"c":"r"},{"x":151,"y":3.2e-14,"c":"r"},{"x":157,"y":3.2e-14,"c":"r"},{"x":163,"y":3.2e-14,"c":"r"},{"x":169,"y":3.2e-14,"c":"r"},
      {"x":73,"y":2.2e-14,"c":"r"},{"x":79,"y":2.2e-14,"c":"r"},{"x":103,"y":2.2e-14,"c":"r"},{"x":109,"y":2.2e-14,"c":"r"},{"x":115,"y":2.2e-14,"c":"r"},{"x":121,"y":2.2e-14,"c":"r"},{"x":127,"y":2.2e-14,"c":"r"},{"x":133,"y":2.2e-14,"c":"r"},{"x":139,"y":2.2e-14,"c":"r"},{"x":145,"y":2.2e-14,"c":"r"},{"x":151,"y":2.2e-14,"c":"r"},{"x":157,"y":2.2e-14,"c":"r"},{"x":163,"y":2.2e-14,"c":"r"},{"x":169,"y":2.2e-14,"c":"r"},
      {"x":43,"y":1.5e-14,"c":"r"},{"x":79,"y":1.5e-14,"c":"r"},{"x":103,"y":1.5e-14,"c":"r"},{"x":109,"y":1.5e-14,"c":"r"},{"x":115,"y":1.5e-14,"c":"r"},{"x":121,"y":1.5e-14,"c":"r"},{"x":127,"y":1.5e-14,"c":"r"},{"x":133,"y":1.5e-14,"c":"r"},{"x":139,"y":1.5e-14,"c":"r"},{"x":145,"y":1.5e-14,"c":"r"},{"x":151,"y":1.5e-14,"c":"r"},{"x":157,"y":1.5e-14,"c":"r"},{"x":163,"y":1.5e-14,"c":"r"},{"x":169,"y":1.5e-14,"c":"r"},
      {"x":37,"y":1e-14,"c":"r"},{"x":103,"y":1e-14,"c":"r"},{"x":109,"y":1e-14,"c":"r"},{"x":115,"y":1e-14,"c":"r"},{"x":121,"y":1e-14,"c":"r"},{"x":127,"y":1e-14,"c":"r"},{"x":133,"y":1e-14,"c":"r"},{"x":139,"y":1e-14,"c":"r"},{"x":145,"y":1e-14,"c":"r"},{"x":151,"y":1e-14,"c":"r"},{"x":157,"y":1e-14,"c":"r"},{"x":163,"y":1e-14,"c":"r"},
      {"x":43,"y":7e-15,"c":"r"},{"x":103,"y":7e-15,"c":"r"},{"x":109,"y":7e-15,"c":"r"},{"x":115,"y":7e-15,"c":"r"},{"x":121,"y":7e-15,"c":"r"},{"x":127,"y":7e-15,"c":"r"},{"x":133,"y":7e-15,"c":"r"},{"x":139,"y":7e-15,"c":"r"},{"x":145,"y":7e-15,"c":"r"},{"x":151,"y":7e-15,"c":"r"},{"x":157,"y":7e-15,"c":"r"},{"x":163,"y":7e-15,"c":"r"},
      {"x":103,"y":4.8e-15,"c":"r"},{"x":109,"y":4.8e-15,"c":"r"},{"x":115,"y":4.8e-15,"c":"r"},{"x":121,"y":4.8e-15,"c":"r"},{"x":127,"y":4.8e-15,"c":"r"},{"x":133,"y":4.8e-15,"c":"r"},{"x":139,"y":4.8e-15,"c":"r"},{"x":145,"y":4.8e-15,"c":"r"},{"x":151,"y":4.8e-15,"c":"r"},{"x":157,"y":4.8e-15,"c":"r"},
      {"x":103,"y":3.3e-15,"c":"r"},{"x":109,"y":3.3e-15,"c":"r"},{"x":115,"y":3.3e-15,"c":"r"},{"x":121,"y":3.3e-15,"c":"r"},{"x":127,"y":3.3e-15,"c":"r"},{"x":133,"y":3.3e-15,"c":"r"},{"x":139,"y":3.3e-15,"c":"r"},{"x":145,"y":3.3e-15,"c":"r"},{"x":151,"y":3.3e-15,"c":"r"},{"x":157,"y":3.3e-15,"c":"r"},
      {"x":103,"y":2.2e-15,"c":"r"},{"x":109,"y":2.2e-15,"c":"r"},{"x":115,"y":2.2e-15,"c":"r"},{"x":121,"y":2.2e-15,"c":"r"},{"x":127,"y":2.2e-15,"c":"r"},{"x":133,"y":2.2e-15,"c":"r"},{"x":139,"y":2.2e-15,"c":"r"},{"x":145,"y":2.2e-15,"c":"r"},{"x":151,"y":2.2e-15,"c":"r"},{"x":157,"y":2.2e-15,"c":"r"},{"x":169,"y":2.2e-15,"c":"r"},
      {"x":103,"y":1.5e-15,"c":"r"},{"x":109,"y":1.5e-15,"c":"r"},{"x":115,"y":1.5e-15,"c":"r"},{"x":121,"y":1.5e-15,"c":"r"},{"x":127,"y":1.5e-15,"c":"r"},{"x":133,"y":1.5e-15,"c":"r"},{"x":139,"y":1.5e-15,"c":"r"},{"x":145,"y":1.5e-15,"c":"r"},{"x":151,"y":1.5e-15,"c":"r"},{"x":157,"y":1.5e-15,"c":"r"},
      {"x":103,"y":1e-15,"c":"r"},{"x":109,"y":1e-15,"c":"r"},{"x":115,"y":1e-15,"c":"r"},{"x":121,"y":1e-15,"c":"r"},{"x":127,"y":1e-15,"c":"r"},{"x":133,"y":1e-15,"c":"r"},{"x":139,"y":1e-15,"c":"r"},{"x":145,"y":1e-15,"c":"r"},
      {"x":103,"y":7.2e-16,"c":"r"},{"x":109,"y":7.2e-16,"c":"r"},{"x":115,"y":7.2e-16,"c":"r"},{"x":121,"y":7.2e-16,"c":"r"},{"x":127,"y":7.2e-16,"c":"r"},{"x":133,"y":7.2e-16,"c":"r"},{"x":139,"y":7.2e-16,"c":"r"},
      {"x":103,"y":4.9e-16,"c":"r"},{"x":109,"y":4.9e-16,"c":"r"},{"x":115,"y":4.9e-16,"c":"r"},{"x":121,"y":4.9e-16,"c":"r"},{"x":103,"y":3.3e-16,"c":"r"},{"x":79,"y":5e-17,"c":"r"},
      {"x":61,"y":1.5e-13,"c":"b"},{"x":49,"y":1e-13,"c":"b"},{"x":61,"y":6.8e-14,"c":"b"},{"x":49,"y":4.7e-14,"c":"b"},
      {"x":49,"y":3.2e-14,"c":"b"},{"x":85,"y":3.2e-14,"c":"b"},{"x":91,"y":3.2e-14,"c":"b"},{"x":97,"y":3.2e-14,"c":"b"},
      {"x":67,"y":2.2e-14,"c":"b"},{"x":85,"y":2.2e-14,"c":"b"},{"x":91,"y":2.2e-14,"c":"b"},{"x":97,"y":2.2e-14,"c":"b"},
      {"x":73,"y":1.5e-14,"c":"b"},{"x":85,"y":1.5e-14,"c":"b"},{"x":91,"y":1.5e-14,"c":"b"},{"x":97,"y":1.5e-14,"c":"b"},
      {"x":73,"y":1e-14,"c":"b"},{"x":79,"y":1e-14,"c":"b"},{"x":85,"y":1e-14,"c":"b"},{"x":91,"y":1e-14,"c":"b"},{"x":97,"y":1e-14,"c":"b"},
      {"x":73,"y":7e-15,"c":"b"},{"x":79,"y":7e-15,"c":"b"},{"x":85,"y":7e-15,"c":"b"},{"x":91,"y":7e-15,"c":"b"},{"x":97,"y":7e-15,"c":"b"},
      {"x":79,"y":4.8e-15,"c":"b"},{"x":85,"y":4.8e-15,"c":"b"},{"x":91,"y":4.8e-15,"c":"b"},{"x":97,"y":4.8e-15,"c":"b"},
      {"x":37,"y":3.3e-15,"c":"b"},{"x":79,"y":3.3e-15,"c":"b"},{"x":85,"y":3.3e-15,"c":"b"},{"x":91,"y":3.3e-15,"c":"b"},{"x":97,"y":3.3e-15,"c":"b"},
      {"x":79,"y":2.2e-15,"c":"b"},{"x":85,"y":2.2e-15,"c":"b"},{"x":91,"y":2.2e-15,"c":"b"},{"x":97,"y":2.2e-15,"c":"b"},
      {"x":79,"y":1.5e-15,"c":"b"},{"x":85,"y":1.5e-15,"c":"b"},{"x":91,"y":1.5e-15,"c":"b"},{"x":97,"y":1.5e-15,"c":"b"},
      {"x":79,"y":1e-15,"c":"b"},{"x":85,"y":1e-15,"c":"b"},{"x":91,"y":1e-15,"c":"b"},{"x":97,"y":1e-15,"c":"b"},
      {"x":79,"y":7.2e-16,"c":"b"},{"x":85,"y":7.2e-16,"c":"b"},{"x":91,"y":7.2e-16,"c":"b"},{"x":97,"y":7.2e-16,"c":"b"},
      {"x":79,"y":4.9e-16,"c":"b"},{"x":85,"y":4.9e-16,"c":"b"},{"x":91,"y":4.9e-16,"c":"b"},{"x":97,"y":4.9e-16,"c":"b"},
      {"x":79,"y":3.3e-16,"c":"b"},{"x":73,"y":2.3e-16,"c":"b"},{"x":79,"y":1.6e-16,"c":"b"},{"x":33,"y":1.1e-16,"c":"b"},{"x":73,"y":1.1e-16,"c":"b"},{"x":79,"y":1.1e-16,"c":"b"},{"x":79,"y":2.3e-17,"c":"b"},{"x":33,"y":1.6e-17,"c":"b"},{"x":77,"y":1.6e-17,"c":"b"},
      {"x":55,"y":1.5e-13,"c":"g"},{"x":55,"y":1e-13,"c":"g"},{"x":55,"y":6.8e-14,"c":"g"},
      {"x":55,"y":4.7e-14,"c":"g"},{"x":61,"y":4.7e-14,"c":"g"},
      {"x":55,"y":3.2e-14,"c":"g"},{"x":61,"y":3.2e-14,"c":"g"},
      {"x":49,"y":2.2e-14,"c":"g"},{"x":55,"y":2.2e-14,"c":"g"},{"x":61,"y":2.2e-14,"c":"g"},
      {"x":49,"y":1.5e-14,"c":"g"},{"x":55,"y":1.5e-14,"c":"g"},{"x":61,"y":1.5e-14,"c":"g"},{"x":67,"y":1.5e-14,"c":"g"},
      {"x":49,"y":1e-14,"c":"g"},{"x":55,"y":1e-14,"c":"g"},{"x":61,"y":1e-14,"c":"g"},{"x":67,"y":1e-14,"c":"g"},
      {"x":49,"y":7e-15,"c":"g"},{"x":55,"y":7e-15,"c":"g"},{"x":61,"y":7e-15,"c":"g"},{"x":67,"y":7e-15,"c":"g"},
      {"x":49,"y":4.8e-15,"c":"g"},{"x":55,"y":4.8e-15,"c":"g"},{"x":61,"y":4.8e-15,"c":"g"},{"x":67,"y":4.8e-15,"c":"g"},{"x":73,"y":4.8e-15,"c":"g"},
      {"x":43,"y":3.3e-15,"c":"g"},{"x":49,"y":3.3e-15,"c":"g"},{"x":55,"y":3.3e-15,"c":"g"},{"x":61,"y":3.3e-15,"c":"g"},{"x":67,"y":3.3e-15,"c":"g"},{"x":73,"y":3.3e-15,"c":"g"},
      {"x":43,"y":2.2e-15,"c":"g"},{"x":49,"y":2.2e-15,"c":"g"},{"x":55,"y":2.2e-15,"c":"g"},{"x":61,"y":2.2e-15,"c":"g"},{"x":67,"y":2.2e-15,"c":"g"},{"x":73,"y":2.2e-15,"c":"g"},
      {"x":37,"y":1.5e-15,"c":"g"},{"x":43,"y":1.5e-15,"c":"g"},{"x":49,"y":1.5e-15,"c":"g"},{"x":55,"y":1.5e-15,"c":"g"},{"x":61,"y":1.5e-15,"c":"g"},{"x":67,"y":1.5e-15,"c":"g"},{"x":73,"y":1.5e-15,"c":"g"},
      {"x":37,"y":1e-15,"c":"g"},{"x":43,"y":1e-15,"c":"g"},{"x":49,"y":1e-15,"c":"g"},{"x":61,"y":1e-15,"c":"g"},{"x":67,"y":1e-15,"c":"g"},{"x":73,"y":1e-15,"c":"g"},
      {"x":37,"y":7.2e-16,"c":"g"},{"x":43,"y":7.2e-16,"c":"g"},{"x":49,"y":7.2e-16,"c":"g"},{"x":67,"y":7.2e-16,"c":"g"},{"x":73,"y":7.2e-16,"c":"g"},
      {"x":37,"y":4.9e-16,"c":"g"},{"x":43,"y":4.9e-16,"c":"g"},{"x":49,"y":4.9e-16,"c":"g"},{"x":67,"y":4.9e-16,"c":"g"},{"x":73,"y":4.9e-16,"c":"g"},
      {"x":37,"y":3.3e-16,"c":"g"},{"x":43,"y":3.3e-16,"c":"g"},{"x":49,"y":3.3e-16,"c":"g"},{"x":67,"y":3.3e-16,"c":"g"},
      {"x":37,"y":2.3e-16,"c":"g"},{"x":43,"y":2.3e-16,"c":"g"},{"x":49,"y":2.3e-16,"c":"g"},{"x":67,"y":2.3e-16,"c":"g"},
      {"x":37,"y":1.6e-16,"c":"g"},{"x":43,"y":1.6e-16,"c":"g"},{"x":49,"y":1.6e-16,"c":"g"},{"x":67,"y":1.6e-16,"c":"g"},
      {"x":37,"y":1.1e-16,"c":"g"},{"x":43,"y":1.1e-16,"c":"g"},{"x":67,"y":1.1e-16,"c":"g"},
      {"x":37,"y":7.3e-17,"c":"g"},{"x":43,"y":7.3e-17,"c":"g"},{"x":67,"y":7.3e-17,"c":"g"},
      {"x":37,"y":5e-17,"c":"g"},{"x":43,"y":5e-17,"c":"g"},{"x":71,"y":5e-17,"c":"g"},
      {"x":37,"y":3.4e-17,"c":"g"},{"x":43,"y":3.4e-17,"c":"g"},
      {"x":37,"y":2.3e-17,"c":"g"},{"x":43,"y":2.3e-17,"c":"g"},
      {"x":37,"y":1.6e-17,"c":"g"},{"x":43,"y":1.6e-17,"c":"g"},
      {"x":37,"y":1.1e-17,"c":"g"},{"x":43,"y":1.1e-17,"c":"g"},
      {"x":37,"y":7.5e-18,"c":"g"},{"x":43,"y":7.5e-18,"c":"g"},
      {"x":37,"y":5.1e-18,"c":"g"},{"x":41,"y":5.1e-18,"c":"g"},
      {"x":37,"y":3.5e-18,"c":"g"},{"x":41,"y":3.5e-18,"c":"g"},
      {"x":37,"y":2.4e-18,"c":"g"},{"x":41,"y":2.4e-18,"c":"g"},
      {"x":38,"y":1.6e-18,"c":"g"},{"x":41,"y":1.6e-18,"c":"g"}
    ]
  },
  "concat": [
    {
      "width": 445, "height": 447,
      "title": {"text": "A. Bottino, F. Donato, N. Fornengo, S. Scopel (2000)", "dy": 15},
      "resolve": {"axis": {"x": "independent", "y": "independent"}},
      "layer": [
        {
          "data": {"name": "p1"},
          "mark": {"type": "square", "size": 115, "opacity": 1},
          "encoding": {
            "x": {"field": "x", "type": "quantitative", "scale": {"domain": [0, 250], "nice": false, "zero": false},
              "axis": {"orient": "bottom", "values": [0,10,20,30,40,50,60,70,80,90,100,110,120,130,140,150,160,170,180,190,200,210,220,230,240,250],
                "labelExpr": "datum.value % 50 == 0 ? datum.label : ''", "labelFontSize": 16, "labelPadding": 18,
                "title": "mᵪ (GeV)", "titleFontSize": 20, "titlePadding": 12,
                "encode": {"ticks": {"update": {"y2": {"signal": "datum.value % 50 == 0 ? -14 : -8"}}}}}},
            "y": {"field": "y", "type": "quantitative", "scale": {"type": "log", "domain": [1e-18, 1e-11], "nice": false},
              "axis": {"orient": "left", "tickCount": 20,
                "labelExpr": "abs(log(datum.value)/LN10 - round(log(datum.value)/LN10)) < 0.01 ? ['10⁻¹⁸','10⁻¹⁷','10⁻¹⁶','10⁻¹⁵','10⁻¹⁴','10⁻¹³','10⁻¹²','10⁻¹¹'][round(log(datum.value)/LN10) + 18] : ''",
                "labelFontSize": 17, "labelPadding": 18,
                "title": "(Φμᴱᵃʳᵗʰ)std (cm⁻² s⁻¹)", "titleFontSize": 19, "titlePadding": 10,
                "encode": {"ticks": {"update": {"x2": {"signal": "abs(log(datum.value)/LN10 - round(log(datum.value)/LN10)) < 0.01 ? 14 : 7"}}}}}},
            "color": {"field": "c", "type": "nominal", "scale": {"domain": ["r", "b", "g"], "range": ["#ff0000", "#0000ff", "#00ff00"]}, "legend": null}
          }
        },
        {
          "data": {"name": "limit"},
          "mark": {"type": "line", "color": "black", "strokeWidth": 2, "interpolate": "step-after"},
          "encoding": {
            "x": {"field": "x", "type": "quantitative", "scale": {"domain": [0, 250], "nice": false, "zero": false},
              "axis": {"orient": "top", "values": [0,10,20,30,40,50,60,70,80,90,100,110,120,130,140,150,160,170,180,190,200,210,220,230,240,250],
                "labels": false, "title": null,
                "encode": {"ticks": {"update": {"y2": {"signal": "datum.value % 50 == 0 ? 14 : 8"}}}}}},
            "y": {"field": "y", "type": "quantitative", "scale": {"type": "log", "domain": [1e-18, 1e-11], "nice": false},
              "axis": {"orient": "right", "tickCount": 20, "labels": false, "title": null,
                "encode": {"ticks": {"update": {"x2": {"signal": "abs(log(datum.value)/LN10 - round(log(datum.value)/LN10)) < 0.01 ? -14 : -7"}}}}}}
          }
        },
        {
          "data": {"values": [{"x": 166, "y": 2.5e-12, "t": "ρₗ = 0.1 GeV cm⁻³"}]},
          "mark": {"type": "text", "font": "DejaVu Serif", "fontWeight": "bold", "fontSize": 18, "align": "center", "baseline": "middle", "color": "black"},
          "encoding": {
            "x": {"field": "x", "type": "quantitative", "axis": null},
            "y": {"field": "y", "type": "quantitative", "scale": {"type": "log"}, "axis": null},
            "text": {"field": "t"}
          }
        }
      ]
    },
    {
      "width": 445, "height": 447,
      "title": {"text": "A. Bottino, F. Donato, N. Fornengo, S. Scopel (2000)", "dy": 7},
      "resolve": {"axis": {"x": "independent", "y": "independent"}},
      "layer": [
        {
          "data": {"name": "p2"},
          "mark": {"type": "square", "size": 115, "opacity": 1},
          "encoding": {
            "x": {"field": "x", "type": "quantitative", "scale": {"domain": [0, 250], "nice": false, "zero": false},
              "axis": {"orient": "bottom", "values": [0,10,20,30,40,50,60,70,80,90,100,110,120,130,140,150,160,170,180,190,200,210,220,230,240,250],
                "labelExpr": "datum.value % 50 == 0 ? datum.label : ''", "labelFontSize": 16, "labelPadding": 18,
                "title": "mᵪ (GeV)", "titleFontSize": 20, "titlePadding": 12,
                "encode": {"ticks": {"update": {"y2": {"signal": "datum.value % 50 == 0 ? -14 : -8"}}}}}},
            "y": {"field": "y", "type": "quantitative", "scale": {"type": "log", "domain": [1e-18, 1e-11], "nice": false},
              "axis": {"orient": "left", "tickCount": 20, "labels": false, "title": null,
                "encode": {"ticks": {"update": {"x2": {"signal": "abs(log(datum.value)/LN10 - round(log(datum.value)/LN10)) < 0.01 ? 14 : 7"}}}}}},
            "color": {"field": "c", "type": "nominal", "scale": {"domain": ["r", "b", "g"], "range": ["#ff0000", "#0000ff", "#00ff00"]}, "legend": null}
          }
        },
        {
          "data": {"name": "limit"},
          "mark": {"type": "line", "color": "black", "strokeWidth": 2, "interpolate": "step-after"},
          "encoding": {
            "x": {"field": "x", "type": "quantitative", "scale": {"domain": [0, 250], "nice": false, "zero": false},
              "axis": {"orient": "top", "values": [0,10,20,30,40,50,60,70,80,90,100,110,120,130,140,150,160,170,180,190,200,210,220,230,240,250],
                "labels": false, "title": null,
                "encode": {"ticks": {"update": {"y2": {"signal": "datum.value % 50 == 0 ? 14 : 8"}}}}}},
            "y": {"field": "y", "type": "quantitative", "scale": {"type": "log", "domain": [1e-18, 1e-11], "nice": false},
              "axis": {"orient": "right", "tickCount": 20, "labels": false, "title": null,
                "encode": {"ticks": {"update": {"x2": {"signal": "abs(log(datum.value)/LN10 - round(log(datum.value)/LN10)) < 0.01 ? -14 : -7"}}}}}}
          }
        },
        {
          "data": {"values": [{"x": 166, "y": 2.5e-12, "t": "ρₗ = 0.3 GeV cm⁻³"}]},
          "mark": {"type": "text", "font": "DejaVu Serif", "fontWeight": "bold", "fontSize": 18, "align": "center", "baseline": "middle", "color": "black"},
          "encoding": {
            "x": {"field": "x", "type": "quantitative", "axis": null},
            "y": {"field": "y", "type": "quantitative", "scale": {"type": "log"}, "axis": null},
            "text": {"field": "t"}
          }
        }
      ]
    },
    {
      "width": 445, "height": 447,
      "title": {"text": "A. Bottino, F. Donato, N. Fornengo, S. Scopel (2000)", "dy": 15},
      "resolve": {"axis": {"x": "independent", "y": "independent"}},
      "layer": [
        {
          "data": {"name": "p3"},
          "mark": {"type": "square", "size": 115, "opacity": 1},
          "encoding": {
            "x": {"field": "x", "type": "quantitative", "scale": {"domain": [0, 250], "nice": false, "zero": false},
              "axis": {"orient": "bottom", "values": [0,10,20,30,40,50,60,70,80,90,100,110,120,130,140,150,160,170,180,190,200,210,220,230,240,250],
                "labelExpr": "datum.value % 50 == 0 ? datum.label : ''", "labelFontSize": 16, "labelPadding": 18,
                "title": "mᵪ (GeV)", "titleFontSize": 20, "titlePadding": 12,
                "encode": {"ticks": {"update": {"y2": {"signal": "datum.value % 50 == 0 ? -14 : -8"}}}}}},
            "y": {"field": "y", "type": "quantitative", "scale": {"type": "log", "domain": [1e-18, 1e-11], "nice": false},
              "axis": {"orient": "left", "tickCount": 20,
                "labelExpr": "abs(log(datum.value)/LN10 - round(log(datum.value)/LN10)) < 0.01 ? ['10⁻¹⁸','10⁻¹⁷','10⁻¹⁶','10⁻¹⁵','10⁻¹⁴','10⁻¹³','10⁻¹²','10⁻¹¹'][round(log(datum.value)/LN10) + 18] : ''",
                "labelFontSize": 17, "labelPadding": 18,
                "title": "(Φμᴱᵃʳᵗʰ)std (cm⁻² s⁻¹)", "titleFontSize": 19, "titlePadding": 10,
                "encode": {"ticks": {"update": {"x2": {"signal": "abs(log(datum.value)/LN10 - round(log(datum.value)/LN10)) < 0.01 ? 14 : 7"}}}}}},
            "color": {"field": "c", "type": "nominal", "scale": {"domain": ["r", "b", "g"], "range": ["#ff0000", "#0000ff", "#00ff00"]}, "legend": null}
          }
        },
        {
          "data": {"name": "limit"},
          "mark": {"type": "line", "color": "black", "strokeWidth": 2, "interpolate": "step-after"},
          "encoding": {
            "x": {"field": "x", "type": "quantitative", "scale": {"domain": [0, 250], "nice": false, "zero": false},
              "axis": {"orient": "top", "values": [0,10,20,30,40,50,60,70,80,90,100,110,120,130,140,150,160,170,180,190,200,210,220,230,240,250],
                "labels": false, "title": null,
                "encode": {"ticks": {"update": {"y2": {"signal": "datum.value % 50 == 0 ? 14 : 8"}}}}}},
            "y": {"field": "y", "type": "quantitative", "scale": {"type": "log", "domain": [1e-18, 1e-11], "nice": false},
              "axis": {"orient": "right", "tickCount": 20, "labels": false, "title": null,
                "encode": {"ticks": {"update": {"x2": {"signal": "abs(log(datum.value)/LN10 - round(log(datum.value)/LN10)) < 0.01 ? -14 : -7"}}}}}}
          }
        },
        {
          "data": {"values": [{"x": 166, "y": 2.5e-12, "t": "ρₗ = 0.5 GeV cm⁻³"}]},
          "mark": {"type": "text", "font": "DejaVu Serif", "fontWeight": "bold", "fontSize": 18, "align": "center", "baseline": "middle", "color": "black"},
          "encoding": {
            "x": {"field": "x", "type": "quantitative", "axis": null},
            "y": {"field": "y", "type": "quantitative", "scale": {"type": "log"}, "axis": null},
            "text": {"field": "t"}
          }
        }
      ]
    },
    {
      "width": 445, "height": 447,
      "title": {"text": "A. Bottino, F. Donato, N. Fornengo, S. Scopel (2000)", "dy": 7},
      "resolve": {"axis": {"x": "independent", "y": "independent"}},
      "layer": [
        {
          "data": {"name": "p4"},
          "mark": {"type": "square", "size": 115, "opacity": 1},
          "encoding": {
            "x": {"field": "x", "type": "quantitative", "scale": {"domain": [0, 250], "nice": false, "zero": false},
              "axis": {"orient": "bottom", "values": [0,10,20,30,40,50,60,70,80,90,100,110,120,130,140,150,160,170,180,190,200,210,220,230,240,250],
                "labelExpr": "datum.value % 50 == 0 ? datum.label : ''", "labelFontSize": 16, "labelPadding": 18,
                "title": "mᵪ (GeV)", "titleFontSize": 20, "titlePadding": 12,
                "encode": {"ticks": {"update": {"y2": {"signal": "datum.value % 50 == 0 ? -14 : -8"}}}}}},
            "y": {"field": "y", "type": "quantitative", "scale": {"type": "log", "domain": [1e-18, 1e-11], "nice": false},
              "axis": {"orient": "left", "tickCount": 20, "labels": false, "title": null,
                "encode": {"ticks": {"update": {"x2": {"signal": "abs(log(datum.value)/LN10 - round(log(datum.value)/LN10)) < 0.01 ? 14 : 7"}}}}}},
            "color": {"field": "c", "type": "nominal", "scale": {"domain": ["r", "b", "g"], "range": ["#ff0000", "#0000ff", "#00ff00"]}, "legend": null}
          }
        },
        {
          "data": {"name": "limit"},
          "mark": {"type": "line", "color": "black", "strokeWidth": 2, "interpolate": "step-after"},
          "encoding": {
            "x": {"field": "x", "type": "quantitative", "scale": {"domain": [0, 250], "nice": false, "zero": false},
              "axis": {"orient": "top", "values": [0,10,20,30,40,50,60,70,80,90,100,110,120,130,140,150,160,170,180,190,200,210,220,230,240,250],
                "labels": false, "title": null,
                "encode": {"ticks": {"update": {"y2": {"signal": "datum.value % 50 == 0 ? 14 : 8"}}}}}},
            "y": {"field": "y", "type": "quantitative", "scale": {"type": "log", "domain": [1e-18, 1e-11], "nice": false},
              "axis": {"orient": "right", "tickCount": 20, "labels": false, "title": null,
                "encode": {"ticks": {"update": {"x2": {"signal": "abs(log(datum.value)/LN10 - round(log(datum.value)/LN10)) < 0.01 ? -14 : -7"}}}}}}
          }
        },
        {
          "data": {"values": [{"x": 166, "y": 2.5e-12, "t": "ρₗ = 0.7 GeV cm⁻³"}]},
          "mark": {"type": "text", "font": "DejaVu Serif", "fontWeight": "bold", "fontSize": 18, "align": "center", "baseline": "middle", "color": "black"},
          "encoding": {
            "x": {"field": "x", "type": "quantitative", "axis": null},
            "y": {"field": "y", "type": "quantitative", "scale": {"type": "log"}, "axis": null},
            "text": {"field": "t"}
          }
        }
      ]
    }
  ]
}
